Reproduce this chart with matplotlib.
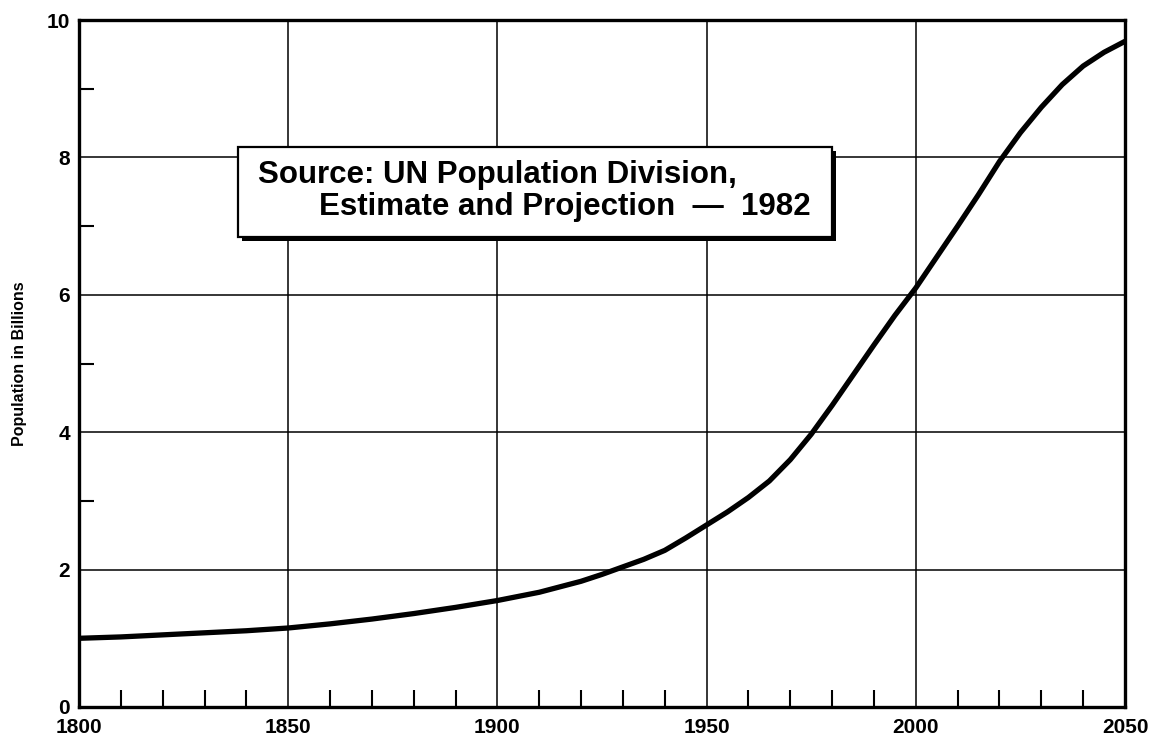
import matplotlib
matplotlib.use("Agg")
import matplotlib.pyplot as plt
from matplotlib.patches import Rectangle
from matplotlib.ticker import FixedLocator

plt.rcParams['font.family'] = ['Liberation Sans', 'DejaVu Sans']
plt.rcParams['font.weight'] = 'bold'

# Data
years = [1800, 1810, 1820, 1830, 1840, 1850, 1860, 1870, 1880, 1890, 1900,
         1910, 1920, 1925, 1930, 1935, 1940, 1945, 1950, 1955, 1960, 1965,
         1970, 1975, 1980, 1985, 1990, 1995, 2000, 2005, 2010, 2015, 2020,
         2025, 2030, 2035, 2040, 2045, 2050]
population = [1.00, 1.02, 1.05, 1.08, 1.11, 1.15, 1.21, 1.28, 1.36, 1.45, 1.55,
              1.67, 1.83, 1.93, 2.04, 2.15, 2.28, 2.46, 2.65, 2.84, 3.05, 3.29,
              3.60, 3.97, 4.39, 4.83, 5.27, 5.70, 6.10, 6.55, 7.00, 7.46, 7.94,
              8.36, 8.73, 9.06, 9.33, 9.53, 9.69]
x_ticks = [1800, 1850, 1900, 1950, 2000, 2050]
y_ticks = [0, 2, 4, 6, 8, 10]
x_minor = [y for y in range(1810, 2050, 10) if y % 50 != 0]
y_minor = [1, 3, 5, 7, 9]
ylabel = "Population in Billions"
note_line1 = "Source: UN Population Division,"
note_line2 = "Estimate and Projection  \u2014  1982"

W, H = 1155, 738
fig = plt.figure(figsize=(W / 100, H / 100), dpi=100)
ax = fig.add_axes([79 / W, 1 - 707 / H, (1125 - 79) / W, (707 - 20) / H])

ax.plot(years, population, color='black', lw=3.8, solid_capstyle='butt',
        solid_joinstyle='round', zorder=5)

ax.set_xlim(1800, 2050)
ax.set_ylim(0, 10)
ax.set_xticks(x_ticks)
ax.set_yticks(y_ticks)
ax.xaxis.set_minor_locator(FixedLocator(x_minor))
ax.yaxis.set_minor_locator(FixedLocator(y_minor))
ax.set_xticklabels([str(t) for t in x_ticks], fontsize=15, fontweight='bold')
ax.set_yticklabels([str(t) for t in y_ticks], fontsize=15, fontweight='bold')
for lbl in ax.get_yticklabels():
    lbl.set_va('center_baseline')
ax.tick_params(axis='both', which='major', length=0)
ax.tick_params(axis='x', which='major', pad=8)
ax.tick_params(axis='y', which='major', pad=6.5)
ax.tick_params(axis='x', which='minor', direction='in', length=12, width=1.5, bottom=True, top=False)
ax.tick_params(axis='y', which='minor', direction='in', length=11, width=1.5, left=True, right=False)
ax.grid(True, which='major', color='black', lw=1.1)
ax.set_axisbelow(True)
for s in ax.spines.values():
    s.set_linewidth(2.4)
    s.set_zorder(6)

ax.set_ylabel(ylabel, fontsize=11.5, fontweight='bold', labelpad=14)

# Note box with shadow
bx0, bx1, by0, by1 = 1838, 1980, 6.84, 8.15
shadow = Rectangle((bx0 + 1.0, by0 - 0.06), bx1 - bx0, by1 - by0,
                   facecolor='black', edgecolor='black', lw=0, zorder=7)
box = Rectangle((bx0, by0), bx1 - bx0, by1 - by0,
                facecolor='white', edgecolor='black', lw=1.6, zorder=8)
ax.add_patch(shadow)
ax.add_patch(box)
ax.text(1842.8, 7.75, note_line1, fontsize=22.5, fontweight='bold', ha='left', va='center', zorder=9)
ax.text(1974.8, 7.28, note_line2, fontsize=22.5, fontweight='bold', ha='right', va='center', zorder=9)

fig.savefig("out.png", dpi=100)
